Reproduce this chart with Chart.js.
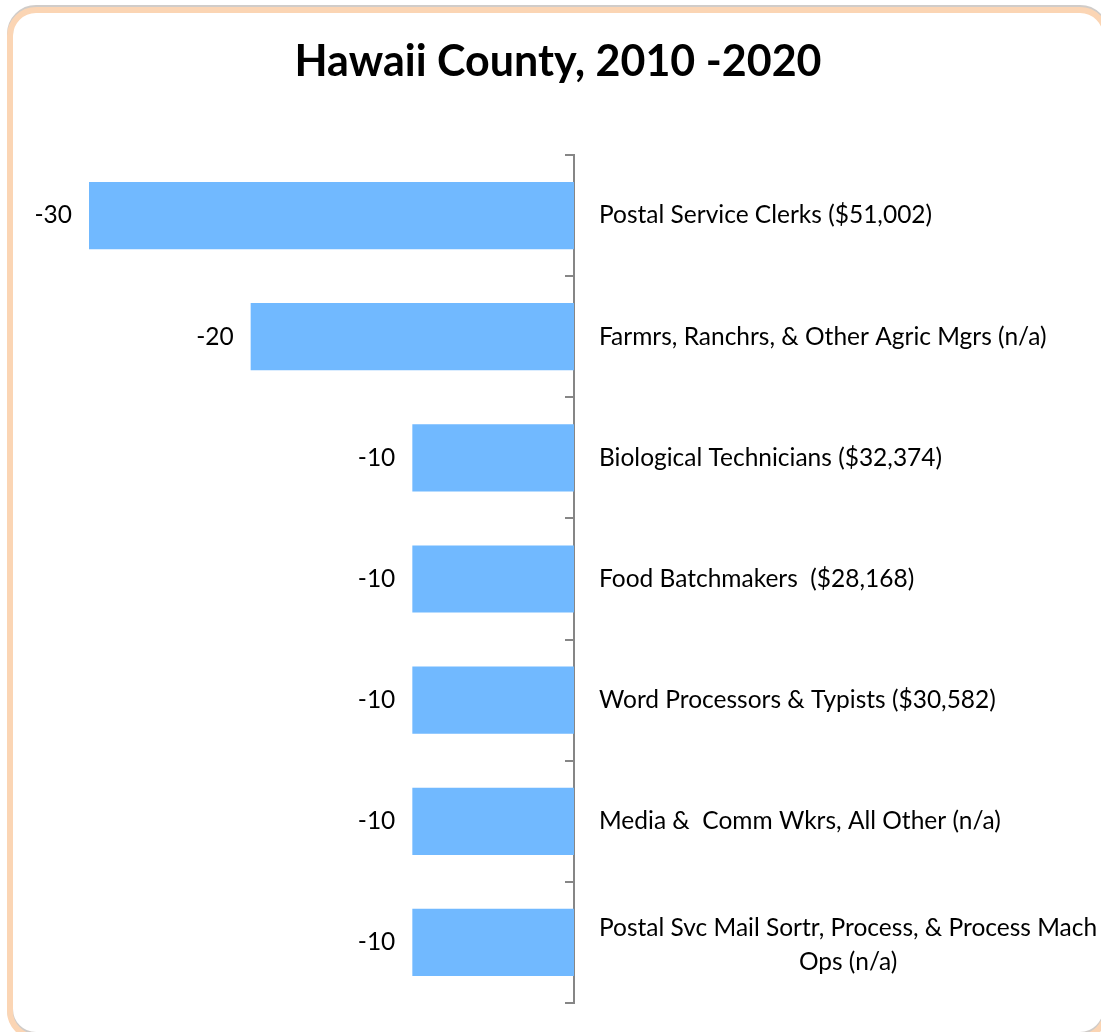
<!DOCTYPE html>
<html lang="en">
<head>
<meta charset="UTF-8">
<title>Hawaii County, 2010 -2020</title>
<script src="https://cdn.jsdelivr.net/npm/chart.js"></script>
<style>
  html, body { margin: 0; padding: 0; background: #fff; }
  canvas { display: block; }
</style>
</head>
<body>
<canvas id="declining-occupations" width="1101" height="1032"></canvas>
<script>
var chartTitle = 'Hawaii County, 2010 -2020';
var occupations = [
  'Postal Service Clerks ($51,002)',
  'Farmrs, Ranchrs, & Other Agric Mgrs (n/a)',
  'Biological Technicians ($32,374)',
  'Food Batchmakers  ($28,168)',
  'Word Processors & Typists ($30,582)',
  'Media &  Comm Wkrs, All Other (n/a)',
  ['Postal Svc Mail Sortr, Process, & Process Mach', 'Ops (n/a)']
];
var jobChange = [-30, -20, -10, -10, -10, -10, -10];

var fontFamily = 'Lato, "Open Sans", sans-serif';
var labelFont = '24.5px ' + fontFamily;

// rounded peach frame and the heading
var framePlugin = {
  id: 'frame',
  beforeDraw: function(chart) {
    var ctx = chart.ctx;
    ctx.save();
    ctx.fillStyle = '#fff';
    ctx.fillRect(0, 0, chart.width, chart.height);
    ctx.shadowColor = 'rgba(120,110,100,0.35)';
    ctx.shadowOffsetY = -2;
    ctx.strokeStyle = '#FBD5B4';
    ctx.lineWidth = 6;
    ctx.beginPath();
    ctx.roundRect(10, 10, 1096, 1027, 26);
    ctx.stroke();
    ctx.restore();

    ctx.save();
    ctx.font = 'bold 43px ' + fontFamily;
    ctx.fillStyle = '#000';
    ctx.textAlign = 'center';
    ctx.textBaseline = 'alphabetic';
    ctx.fillText(chartTitle, 558, 76);
    ctx.restore();
  }
};

// value at the end of each bar
var valueLabels = {
  id: 'valueLabels',
  afterDatasetsDraw: function(chart) {
    var ctx = chart.ctx;
    var meta = chart.getDatasetMeta(0);
    ctx.save();
    ctx.font = labelFont;
    ctx.fillStyle = '#000';
    ctx.textAlign = 'right';
    ctx.textBaseline = 'middle';
    meta.data.forEach(function(bar, i) {
      ctx.fillText(String(jobChange[i]), bar.x - 17, bar.y);
    });
    ctx.restore();
  }
};

// category names to the right of the zero line, wrapped ones centred
var categoryLabels = {
  id: 'categoryLabels',
  afterDraw: function(chart) {
    var ctx = chart.ctx;
    var yScale = chart.scales.y;
    var x0 = yScale.left + 25;
    ctx.save();
    ctx.font = labelFont;
    ctx.fillStyle = '#000';
    ctx.textBaseline = 'middle';
    occupations.forEach(function(label, i) {
      var y = yScale.getPixelForValue(i);
      if (Array.isArray(label)) {
        var widest = Math.max.apply(null, label.map(function(l) { return ctx.measureText(l).width; }));
        var lineH = 34;
        var top = y + 3 - (label.length - 1) * lineH / 2;
        ctx.textAlign = 'center';
        label.forEach(function(line, j) {
          ctx.fillText(line, x0 + widest / 2, top + j * lineH);
        });
      } else {
        ctx.textAlign = 'left';
        ctx.fillText(label, x0, y);
      }
    });
    ctx.restore();
  }
};

new Chart(document.getElementById('declining-occupations'), {
  type: 'bar',
  data: {
    labels: occupations,
    datasets: [{
      data: jobChange,
      backgroundColor: '#71B9FF',
      borderWidth: 0,
      categoryPercentage: 1,
      barPercentage: 0.555
    }]
  },
  options: {
    indexAxis: 'y',
    responsive: false,
    animation: false,
    layout: { padding: { left: 89, right: 0, top: 155, bottom: 29 } },
    plugins: {
      legend: { display: false },
      tooltip: { enabled: false },
      title: { display: false }
    },
    scales: {
      x: {
        display: false,
        min: -30,
        max: 0
      },
      y: {
        position: 'right',
        afterFit: function(scale) { scale.width = 527; },
        ticks: { display: false },
        border: { color: '#868686', width: 2 },
        grid: {
          offset: true,
          drawOnChartArea: false,
          color: '#868686',
          lineWidth: 2,
          tickLength: -9
        }
      }
    }
  },
  plugins: [framePlugin, valueLabels, categoryLabels]
});
</script>
</body>
</html>
